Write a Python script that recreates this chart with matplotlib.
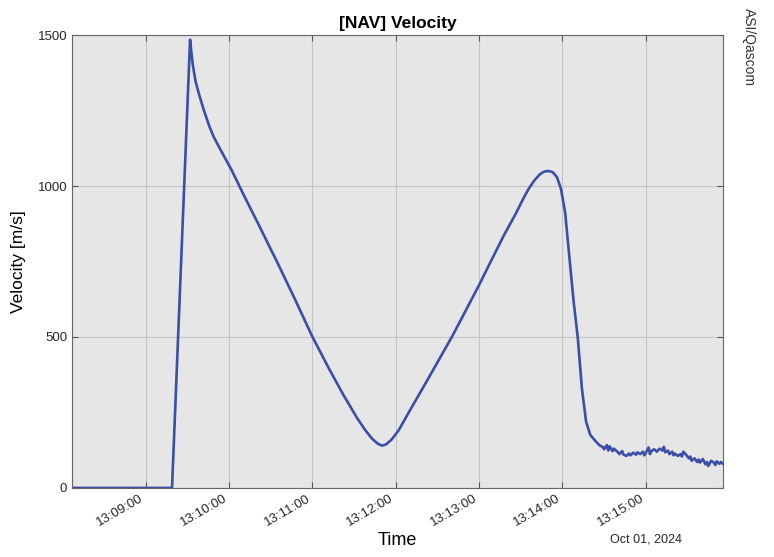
import numpy as np
import pandas as pd
import matplotlib
matplotlib.use('Agg')
import matplotlib.pyplot as plt
import matplotlib.dates as mdates

plt.rcParams['font.family'] = ['Liberation Sans', 'DejaVu Sans']

# seconds after 13:09:00 on 2024-10-01, velocity in m/s
t_sec = [-53, 19, 32, 33, 34, 36, 39, 42, 46, 49, 53, 57, 62, 70, 82, 95, 108, 120, 132, 142,
         152, 158, 163, 167, 170, 173, 177, 182, 190, 204, 221, 240, 247, 258, 266, 272, 276,
         280, 284, 287, 290, 293, 296, 299, 302, 305, 308, 311, 314, 317, 320, 324,
         327, 329, 330, 332, 333, 334, 336, 337, 338, 340, 341, 343, 344, 346, 348, 349, 351,
         353, 354, 356, 358, 359, 360, 362, 363, 364, 366, 368, 369, 370, 372, 373, 374, 376,
         377, 379, 380, 381, 383, 385, 386, 387, 389, 391, 392, 393, 395, 397, 398, 399, 401,
         403, 404, 405, 407, 409, 410, 411, 413, 414, 415.5]
velocity = [0, 0, 1485, 1440, 1400, 1345, 1295, 1250, 1196, 1163, 1128, 1094, 1052, 976, 866,
            745, 620, 501, 395, 311, 233, 192, 163, 147, 140, 144, 160, 190, 255, 367, 505, 672,
            737, 838, 905, 960, 993, 1020, 1040, 1048, 1050, 1046, 1030, 990, 910, 764, 620,
            499, 330, 220, 176, 154,
            140, 136, 128, 142, 124, 138, 122, 130, 126, 118, 112, 122, 110, 106, 114, 108, 117,
            110, 118, 112, 120, 108, 116, 134, 112, 122, 128, 120, 126, 130, 124, 136, 118, 124,
            112, 120, 108, 114, 106, 112, 104, 120, 110, 98, 104, 90, 98, 86, 94, 84, 96,
            78, 86, 73, 90, 84, 76, 88, 80, 86, 80]

base = pd.Timestamp('2024-10-01 13:09:00')
times = [base + pd.Timedelta(seconds=s) for s in t_sec]

fig = plt.figure(figsize=(7.74, 5.57), dpi=100)
ax = fig.add_axes([0.093, 0.124, 0.841, 0.813])
ax.set_facecolor('#e6e6e6')
ax.plot(times, velocity, color='#3b4ea8', linewidth=1.9)

ax.set_xlim(times[0], times[-1])
ax.set_ylim(0, 1500)
ax.set_yticks([0, 500, 1000, 1500])
ax.xaxis.set_major_locator(mdates.MinuteLocator())
ax.xaxis.set_major_formatter(mdates.DateFormatter('%H:%M:%S'))

ax.grid(True, color='#c4c4c4', linewidth=0.8)
ax.tick_params(direction='in', top=True, right=True, length=4, color='#555555',
               labelsize=9.5, labelcolor='#262626')
for lab in ax.get_xticklabels():
    lab.set_rotation(30)
    lab.set_ha('right')
for sp in ax.spines.values():
    sp.set_color('#666666')
    sp.set_linewidth(0.8)

ax.set_title('[NAV] Velocity', fontsize=12.5, fontweight='bold', pad=5)
ax.set_ylabel('Velocity [m/s]', fontsize=12.5, labelpad=8)
ax.set_xlabel('Time', fontsize=13, labelpad=2)
fig.text(0.834, 0.02, 'Oct 01, 2024', fontsize=9, ha='center', va='bottom', color='#262626')
fig.text(0.968, 0.985, 'ASI/Qascom', fontsize=10, rotation=270, ha='center', va='top',
         color='#333333')

plt.savefig('out.png', dpi=100)
